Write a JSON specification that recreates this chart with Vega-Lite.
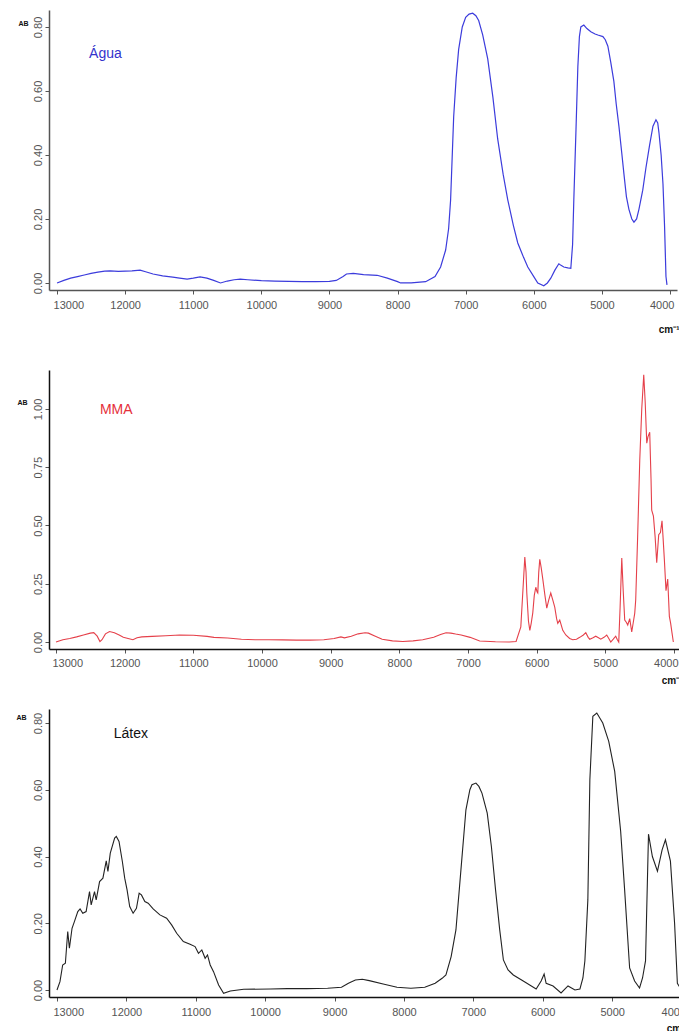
{
  "$schema": "https://vega.github.io/schema/vega-lite/v6.json",
  "padding": {"left": 8, "top": 10, "right": 0, "bottom": 0},
  "config": {
    "view": {"stroke": null},
    "font": "Liberation Sans",
    "axis": {
      "grid": false,
      "labelFont": "Liberation Sans",
      "labelFontSize": 11,
      "labelColor": "#555555",
      "labelFlush": false,
      "tickSize": 4,
      "tickColor": "#555555",
      "domainWidth": 1.5,
      "titleFont": "Liberation Sans",
      "titleColor": "#111111"
    },
    "axisX": {"labelFlush": 10, "labelFlushOffset": 4}
  },
  "datasets": {
    "agua": [
      {"wn": 13000, "ab": 0.0}, {"wn": 12900, "ab": 0.008}, {"wn": 12800, "ab": 0.015}, {"wn": 12700, "ab": 0.02},
      {"wn": 12600, "ab": 0.025}, {"wn": 12500, "ab": 0.03}, {"wn": 12400, "ab": 0.034}, {"wn": 12300, "ab": 0.037},
      {"wn": 12220, "ab": 0.038}, {"wn": 12100, "ab": 0.036}, {"wn": 12000, "ab": 0.037}, {"wn": 11900, "ab": 0.038},
      {"wn": 11780, "ab": 0.04}, {"wn": 11700, "ab": 0.035}, {"wn": 11590, "ab": 0.028}, {"wn": 11450, "ab": 0.022},
      {"wn": 11300, "ab": 0.018}, {"wn": 11200, "ab": 0.015}, {"wn": 11090, "ab": 0.012}, {"wn": 11000, "ab": 0.015},
      {"wn": 10900, "ab": 0.019}, {"wn": 10800, "ab": 0.015}, {"wn": 10700, "ab": 0.008}, {"wn": 10600, "ab": 0.0},
      {"wn": 10500, "ab": 0.006}, {"wn": 10400, "ab": 0.01}, {"wn": 10310, "ab": 0.012}, {"wn": 10200, "ab": 0.01},
      {"wn": 10000, "ab": 0.007}, {"wn": 9800, "ab": 0.006}, {"wn": 9600, "ab": 0.005}, {"wn": 9400, "ab": 0.004},
      {"wn": 9200, "ab": 0.004}, {"wn": 9000, "ab": 0.005}, {"wn": 8900, "ab": 0.008}, {"wn": 8800, "ab": 0.02},
      {"wn": 8750, "ab": 0.028}, {"wn": 8650, "ab": 0.03}, {"wn": 8500, "ab": 0.026}, {"wn": 8300, "ab": 0.024},
      {"wn": 8150, "ab": 0.015}, {"wn": 8000, "ab": 0.004}, {"wn": 7956, "ab": 0.0}, {"wn": 7800, "ab": 0.0},
      {"wn": 7588, "ab": 0.004}, {"wn": 7450, "ab": 0.02}, {"wn": 7368, "ab": 0.05}, {"wn": 7294, "ab": 0.103},
      {"wn": 7250, "ab": 0.17}, {"wn": 7221, "ab": 0.26}, {"wn": 7176, "ab": 0.52}, {"wn": 7140, "ab": 0.64},
      {"wn": 7103, "ab": 0.73}, {"wn": 7050, "ab": 0.8}, {"wn": 7000, "ab": 0.83}, {"wn": 6950, "ab": 0.84},
      {"wn": 6897, "ab": 0.843}, {"wn": 6850, "ab": 0.835}, {"wn": 6809, "ab": 0.82}, {"wn": 6750, "ab": 0.775},
      {"wn": 6676, "ab": 0.7}, {"wn": 6600, "ab": 0.58}, {"wn": 6530, "ab": 0.45}, {"wn": 6450, "ab": 0.34},
      {"wn": 6382, "ab": 0.26}, {"wn": 6300, "ab": 0.18}, {"wn": 6235, "ab": 0.125}, {"wn": 6150, "ab": 0.08},
      {"wn": 6088, "ab": 0.05}, {"wn": 6000, "ab": 0.02}, {"wn": 5941, "ab": 0.0}, {"wn": 5853, "ab": -0.009},
      {"wn": 5800, "ab": 0.0}, {"wn": 5750, "ab": 0.015}, {"wn": 5690, "ab": 0.04}, {"wn": 5632, "ab": 0.06},
      {"wn": 5600, "ab": 0.055}, {"wn": 5559, "ab": 0.05}, {"wn": 5500, "ab": 0.047}, {"wn": 5456, "ab": 0.046},
      {"wn": 5430, "ab": 0.12}, {"wn": 5412, "ab": 0.26}, {"wn": 5380, "ab": 0.48}, {"wn": 5353, "ab": 0.675},
      {"wn": 5330, "ab": 0.77}, {"wn": 5309, "ab": 0.8}, {"wn": 5265, "ab": 0.806}, {"wn": 5220, "ab": 0.795},
      {"wn": 5162, "ab": 0.785}, {"wn": 5100, "ab": 0.778}, {"wn": 5059, "ab": 0.775}, {"wn": 4985, "ab": 0.77},
      {"wn": 4950, "ab": 0.76}, {"wn": 4912, "ab": 0.74}, {"wn": 4870, "ab": 0.69}, {"wn": 4824, "ab": 0.63},
      {"wn": 4790, "ab": 0.56}, {"wn": 4750, "ab": 0.49}, {"wn": 4710, "ab": 0.41}, {"wn": 4676, "ab": 0.34},
      {"wn": 4640, "ab": 0.27}, {"wn": 4603, "ab": 0.23}, {"wn": 4560, "ab": 0.2}, {"wn": 4529, "ab": 0.19},
      {"wn": 4490, "ab": 0.2}, {"wn": 4456, "ab": 0.23}, {"wn": 4400, "ab": 0.29}, {"wn": 4353, "ab": 0.36},
      {"wn": 4300, "ab": 0.43}, {"wn": 4250, "ab": 0.49}, {"wn": 4206, "ab": 0.51}, {"wn": 4180, "ab": 0.5},
      {"wn": 4162, "ab": 0.47}, {"wn": 4130, "ab": 0.4}, {"wn": 4103, "ab": 0.31}, {"wn": 4080, "ab": 0.18},
      {"wn": 4059, "ab": 0.02}, {"wn": 4044, "ab": -0.006}
    ],
    "mma": [
      {"wn": 13000, "ab": 0.0}, {"wn": 12900, "ab": 0.01}, {"wn": 12800, "ab": 0.015}, {"wn": 12700, "ab": 0.022},
      {"wn": 12600, "ab": 0.03}, {"wn": 12500, "ab": 0.038}, {"wn": 12450, "ab": 0.04}, {"wn": 12400, "ab": 0.025},
      {"wn": 12360, "ab": 0.002}, {"wn": 12330, "ab": 0.01}, {"wn": 12280, "ab": 0.035}, {"wn": 12220, "ab": 0.045},
      {"wn": 12150, "ab": 0.04}, {"wn": 12080, "ab": 0.03}, {"wn": 12020, "ab": 0.02}, {"wn": 11950, "ab": 0.015},
      {"wn": 11880, "ab": 0.01}, {"wn": 11820, "ab": 0.018}, {"wn": 11750, "ab": 0.022}, {"wn": 11600, "ab": 0.024},
      {"wn": 11400, "ab": 0.027}, {"wn": 11200, "ab": 0.03}, {"wn": 11000, "ab": 0.029}, {"wn": 10800, "ab": 0.024},
      {"wn": 10700, "ab": 0.02}, {"wn": 10500, "ab": 0.017}, {"wn": 10300, "ab": 0.012}, {"wn": 10100, "ab": 0.01},
      {"wn": 9900, "ab": 0.01}, {"wn": 9700, "ab": 0.009}, {"wn": 9500, "ab": 0.008}, {"wn": 9300, "ab": 0.008},
      {"wn": 9100, "ab": 0.01}, {"wn": 8950, "ab": 0.015}, {"wn": 8850, "ab": 0.022}, {"wn": 8800, "ab": 0.018},
      {"wn": 8700, "ab": 0.025}, {"wn": 8600, "ab": 0.035}, {"wn": 8500, "ab": 0.04}, {"wn": 8450, "ab": 0.038},
      {"wn": 8350, "ab": 0.025}, {"wn": 8250, "ab": 0.012}, {"wn": 8100, "ab": 0.005}, {"wn": 7950, "ab": 0.002},
      {"wn": 7800, "ab": 0.005}, {"wn": 7660, "ab": 0.01}, {"wn": 7500, "ab": 0.02}, {"wn": 7400, "ab": 0.032},
      {"wn": 7320, "ab": 0.04}, {"wn": 7250, "ab": 0.038}, {"wn": 7180, "ab": 0.034}, {"wn": 7100, "ab": 0.03},
      {"wn": 6970, "ab": 0.02}, {"wn": 6830, "ab": 0.004}, {"wn": 6600, "ab": 0.001}, {"wn": 6400, "ab": 0.0},
      {"wn": 6300, "ab": 0.002}, {"wn": 6231, "ab": 0.065}, {"wn": 6195, "ab": 0.25}, {"wn": 6173, "ab": 0.365},
      {"wn": 6155, "ab": 0.3}, {"wn": 6144, "ab": 0.21}, {"wn": 6120, "ab": 0.09}, {"wn": 6100, "ab": 0.05},
      {"wn": 6080, "ab": 0.08}, {"wn": 6057, "ab": 0.125}, {"wn": 6035, "ab": 0.2}, {"wn": 6013, "ab": 0.235},
      {"wn": 5995, "ab": 0.215}, {"wn": 5984, "ab": 0.21}, {"wn": 5970, "ab": 0.3}, {"wn": 5955, "ab": 0.355},
      {"wn": 5935, "ab": 0.32}, {"wn": 5911, "ab": 0.27}, {"wn": 5880, "ab": 0.2}, {"wn": 5853, "ab": 0.145},
      {"wn": 5825, "ab": 0.18}, {"wn": 5795, "ab": 0.21}, {"wn": 5765, "ab": 0.18}, {"wn": 5737, "ab": 0.15},
      {"wn": 5710, "ab": 0.1}, {"wn": 5693, "ab": 0.08}, {"wn": 5664, "ab": 0.094}, {"wn": 5620, "ab": 0.05},
      {"wn": 5576, "ab": 0.03}, {"wn": 5520, "ab": 0.015}, {"wn": 5475, "ab": 0.01}, {"wn": 5420, "ab": 0.012},
      {"wn": 5373, "ab": 0.02}, {"wn": 5320, "ab": 0.03}, {"wn": 5285, "ab": 0.04}, {"wn": 5250, "ab": 0.02},
      {"wn": 5227, "ab": 0.012}, {"wn": 5180, "ab": 0.018}, {"wn": 5140, "ab": 0.025}, {"wn": 5100, "ab": 0.018},
      {"wn": 5067, "ab": 0.012}, {"wn": 5020, "ab": 0.02}, {"wn": 4980, "ab": 0.03}, {"wn": 4950, "ab": 0.015},
      {"wn": 4921, "ab": 0.0}, {"wn": 4885, "ab": 0.012}, {"wn": 4849, "ab": 0.025}, {"wn": 4825, "ab": 0.01},
      {"wn": 4805, "ab": 0.0}, {"wn": 4785, "ab": 0.15}, {"wn": 4761, "ab": 0.36}, {"wn": 4740, "ab": 0.22},
      {"wn": 4718, "ab": 0.094}, {"wn": 4695, "ab": 0.085}, {"wn": 4674, "ab": 0.073}, {"wn": 4645, "ab": 0.1},
      {"wn": 4616, "ab": 0.043}, {"wn": 4590, "ab": 0.09}, {"wn": 4572, "ab": 0.124}, {"wn": 4558, "ab": 0.18},
      {"wn": 4530, "ab": 0.45}, {"wn": 4499, "ab": 0.78}, {"wn": 4470, "ab": 1.0}, {"wn": 4441, "ab": 1.146},
      {"wn": 4420, "ab": 1.03}, {"wn": 4397, "ab": 0.853}, {"wn": 4380, "ab": 0.88}, {"wn": 4354, "ab": 0.9},
      {"wn": 4335, "ab": 0.7}, {"wn": 4325, "ab": 0.566}, {"wn": 4300, "ab": 0.54}, {"wn": 4275, "ab": 0.45},
      {"wn": 4252, "ab": 0.34}, {"wn": 4223, "ab": 0.46}, {"wn": 4198, "ab": 0.47}, {"wn": 4175, "ab": 0.52},
      {"wn": 4160, "ab": 0.45}, {"wn": 4140, "ab": 0.35}, {"wn": 4117, "ab": 0.22}, {"wn": 4092, "ab": 0.27},
      {"wn": 4068, "ab": 0.11}, {"wn": 4049, "ab": 0.08}, {"wn": 4030, "ab": 0.04}, {"wn": 4010, "ab": 0.0}
    ],
    "latex": [
      {"wn": 13000, "ab": 0.0}, {"wn": 12957, "ab": 0.025}, {"wn": 12918, "ab": 0.075}, {"wn": 12879, "ab": 0.08},
      {"wn": 12845, "ab": 0.175}, {"wn": 12821, "ab": 0.125}, {"wn": 12783, "ab": 0.185}, {"wn": 12749, "ab": 0.205},
      {"wn": 12700, "ab": 0.235}, {"wn": 12667, "ab": 0.243}, {"wn": 12628, "ab": 0.23}, {"wn": 12580, "ab": 0.235},
      {"wn": 12531, "ab": 0.295}, {"wn": 12507, "ab": 0.255}, {"wn": 12459, "ab": 0.295}, {"wn": 12435, "ab": 0.27},
      {"wn": 12386, "ab": 0.325}, {"wn": 12338, "ab": 0.335}, {"wn": 12290, "ab": 0.387}, {"wn": 12266, "ab": 0.355},
      {"wn": 12232, "ab": 0.41}, {"wn": 12169, "ab": 0.455}, {"wn": 12145, "ab": 0.46}, {"wn": 12106, "ab": 0.445},
      {"wn": 12058, "ab": 0.385}, {"wn": 12024, "ab": 0.335}, {"wn": 11990, "ab": 0.3}, {"wn": 11952, "ab": 0.25},
      {"wn": 11903, "ab": 0.23}, {"wn": 11855, "ab": 0.245}, {"wn": 11816, "ab": 0.29}, {"wn": 11783, "ab": 0.285},
      {"wn": 11734, "ab": 0.265}, {"wn": 11686, "ab": 0.26}, {"wn": 11614, "ab": 0.243}, {"wn": 11517, "ab": 0.225},
      {"wn": 11420, "ab": 0.215}, {"wn": 11348, "ab": 0.195}, {"wn": 11275, "ab": 0.17}, {"wn": 11179, "ab": 0.145},
      {"wn": 11082, "ab": 0.137}, {"wn": 11010, "ab": 0.13}, {"wn": 10961, "ab": 0.11}, {"wn": 10913, "ab": 0.12},
      {"wn": 10865, "ab": 0.095}, {"wn": 10831, "ab": 0.105}, {"wn": 10792, "ab": 0.075}, {"wn": 10744, "ab": 0.055},
      {"wn": 10671, "ab": 0.015}, {"wn": 10599, "ab": -0.01}, {"wn": 10502, "ab": -0.003}, {"wn": 10309, "ab": 0.002},
      {"wn": 9923, "ab": 0.003}, {"wn": 9681, "ab": 0.004}, {"wn": 9400, "ab": 0.004}, {"wn": 9100, "ab": 0.005},
      {"wn": 8900, "ab": 0.008}, {"wn": 8800, "ab": 0.02}, {"wn": 8700, "ab": 0.03}, {"wn": 8600, "ab": 0.032},
      {"wn": 8500, "ab": 0.028}, {"wn": 8300, "ab": 0.018}, {"wn": 8100, "ab": 0.008}, {"wn": 7900, "ab": 0.005},
      {"wn": 7700, "ab": 0.008}, {"wn": 7550, "ab": 0.02}, {"wn": 7450, "ab": 0.035}, {"wn": 7395, "ab": 0.045},
      {"wn": 7320, "ab": 0.1}, {"wn": 7251, "ab": 0.18}, {"wn": 7179, "ab": 0.36}, {"wn": 7107, "ab": 0.54},
      {"wn": 7050, "ab": 0.6}, {"wn": 7020, "ab": 0.615}, {"wn": 6963, "ab": 0.62}, {"wn": 6920, "ab": 0.61},
      {"wn": 6876, "ab": 0.59}, {"wn": 6800, "ab": 0.53}, {"wn": 6740, "ab": 0.43}, {"wn": 6680, "ab": 0.3},
      {"wn": 6620, "ab": 0.18}, {"wn": 6567, "ab": 0.09}, {"wn": 6500, "ab": 0.06}, {"wn": 6424, "ab": 0.045},
      {"wn": 6281, "ab": 0.027},
      {"wn": 6095, "ab": 0.003}, {"wn": 6023, "ab": 0.027}, {"wn": 5980, "ab": 0.048}, {"wn": 5951, "ab": 0.02},
      {"wn": 5851, "ab": 0.012}, {"wn": 5736, "ab": -0.009}, {"wn": 5636, "ab": 0.012}, {"wn": 5536, "ab": 0.0},
      {"wn": 5464, "ab": 0.003}, {"wn": 5421, "ab": 0.036}, {"wn": 5393, "ab": 0.087}, {"wn": 5350, "ab": 0.27},
      {"wn": 5321, "ab": 0.63}, {"wn": 5278, "ab": 0.82}, {"wn": 5221, "ab": 0.83}, {"wn": 5135, "ab": 0.8},
      {"wn": 5049, "ab": 0.745}, {"wn": 4963, "ab": 0.655}, {"wn": 4877, "ab": 0.475}, {"wn": 4820, "ab": 0.3},
      {"wn": 4748, "ab": 0.066}, {"wn": 4676, "ab": 0.027}, {"wn": 4605, "ab": 0.006}, {"wn": 4562, "ab": 0.036},
      {"wn": 4519, "ab": 0.087}, {"wn": 4476, "ab": 0.467}, {"wn": 4420, "ab": 0.4}, {"wn": 4347, "ab": 0.356},
      {"wn": 4280, "ab": 0.42}, {"wn": 4232, "ab": 0.45}, {"wn": 4160, "ab": 0.386}, {"wn": 4100, "ab": 0.2},
      {"wn": 4060, "ab": 0.02}, {"wn": 4030, "ab": 0.01}, {"wn": 4000, "ab": 0.17}
    ]
  },
  "spacing": 36,
  "vconcat": [
    {
      "width": 628,
      "height": 280,
      "layer": [
        {
          "data": {"name": "agua"},
          "mark": {"type": "line", "color": "#3c3cdc", "strokeWidth": 1.2},
          "encoding": {
            "x": {
              "field": "wn", "type": "quantitative",
              "scale": {"domain": [3897, 13118], "reverse": true, "nice": false, "zero": false},
              "axis": {
                "values": [4000, 5000, 6000, 7000, 8000, 9000, 10000, 11000, 12000, 13000],
                "format": "d", "domainColor": "#555555", "labelPadding": 5,
                "title": "cm⁻¹", "titleX": 630, "titleY": 42, "titleAlign": "right",
                "titleBaseline": "alphabetic", "titleFontSize": 10, "titleFontWeight": "bold"
              }
            },
            "y": {
              "field": "ab", "type": "quantitative",
              "scale": {"domain": [-0.022, 0.853], "nice": false, "zero": false},
              "axis": {
                "values": [0, 0.2, 0.4, 0.6, 0.8], "format": ".2f", "labelAngle": 270,
                "domainColor": "#555555", "minExtent": 41, "maxExtent": 41,
                "title": "AB", "titleAngle": 0, "titleX": -26, "titleY": 13,
                "titleAlign": "center", "titleBaseline": "middle",
                "titleFontSize": 7, "titleFontWeight": "bold"
              }
            }
          }
        },
        {
          "data": {"values": [{}]},
          "mark": {"type": "text", "text": "Água", "color": "#3333cc", "fontSize": 14, "align": "left", "baseline": "middle"},
          "encoding": {
            "x": {"datum": 12530, "type": "quantitative"},
            "y": {"datum": 0.716, "type": "quantitative"}
          }
        }
      ]
    },
    {
      "spacing": 24,
      "vconcat": [
        {
          "width": 631,
          "height": 279,
          "layer": [
            {
              "data": {"name": "mma"},
              "mark": {"type": "line", "color": "#e5404a", "strokeWidth": 1.1},
              "encoding": {
                "x": {
                  "field": "wn", "type": "quantitative",
                  "scale": {"domain": [3913, 13102], "reverse": true, "nice": false, "zero": false},
                  "axis": {
                    "values": [4000, 5000, 6000, 7000, 8000, 9000, 10000, 11000, 12000, 13000],
                    "format": "d", "domainColor": "#111111", "labelPadding": 4,
                    "title": "cm⁻¹", "titleX": 633, "titleY": 34, "titleAlign": "right",
                    "titleBaseline": "alphabetic", "titleFontSize": 10, "titleFontWeight": "bold"
                  }
                },
                "y": {
                  "field": "ab", "type": "quantitative",
                  "scale": {"domain": [-0.03, 1.167], "nice": false, "zero": false},
                  "axis": {
                    "values": [0, 0.25, 0.5, 0.75, 1.0], "format": ".2f", "labelAngle": 270,
                    "domainColor": "#111111", "minExtent": 38, "maxExtent": 38,
                    "title": "AB", "titleAngle": 0, "titleX": -27, "titleY": 32,
                    "titleAlign": "center", "titleBaseline": "middle",
                    "titleFontSize": 7, "titleFontWeight": "bold"
                  }
                }
              }
            },
            {
              "data": {"values": [{}]},
              "mark": {"type": "text", "text": "MMA", "color": "#e5303a", "fontSize": 14, "align": "left", "baseline": "middle"},
              "encoding": {
                "x": {"datum": 12360, "type": "quantitative"},
                "y": {"datum": 0.996, "type": "quantitative"}
              }
            }
          ]
        },
        {
          "width": 636,
          "height": 288,
          "layer": [
            {
              "data": {"name": "latex"},
              "mark": {"type": "line", "color": "#222222", "strokeWidth": 1.1},
              "encoding": {
                "x": {
                  "field": "wn", "type": "quantitative",
                  "scale": {"domain": [3950, 13115], "reverse": true, "nice": false, "zero": false},
                  "axis": {
                    "values": [4000, 5000, 6000, 7000, 8000, 9000, 10000, 11000, 12000, 13000],
                    "format": "d", "domainColor": "#111111", "labelPadding": 5,
                    "title": "cm⁻¹", "titleX": 638, "titleY": 34, "titleAlign": "right",
                    "titleBaseline": "alphabetic", "titleFontSize": 10, "titleFontWeight": "bold"
                  }
                },
                "y": {
                  "field": "ab", "type": "quantitative",
                  "scale": {"domain": [-0.021, 0.842], "nice": false, "zero": false},
                  "axis": {
                    "values": [0, 0.2, 0.4, 0.6, 0.8], "format": ".2f", "labelAngle": 270,
                    "domainColor": "#111111", "minExtent": 35, "maxExtent": 35,
                    "title": "AB", "titleAngle": 0, "titleX": -28, "titleY": 8,
                    "titleAlign": "center", "titleBaseline": "middle",
                    "titleFontSize": 7, "titleFontWeight": "bold"
                  }
                }
              }
            },
            {
              "data": {"values": [{}]},
              "mark": {"type": "text", "text": "Látex", "color": "#111111", "fontSize": 14, "align": "left", "baseline": "middle"},
              "encoding": {
                "x": {"datum": 12183, "type": "quantitative"},
                "y": {"datum": 0.766, "type": "quantitative"}
              }
            }
          ]
        }
      ]
    }
  ]
}
